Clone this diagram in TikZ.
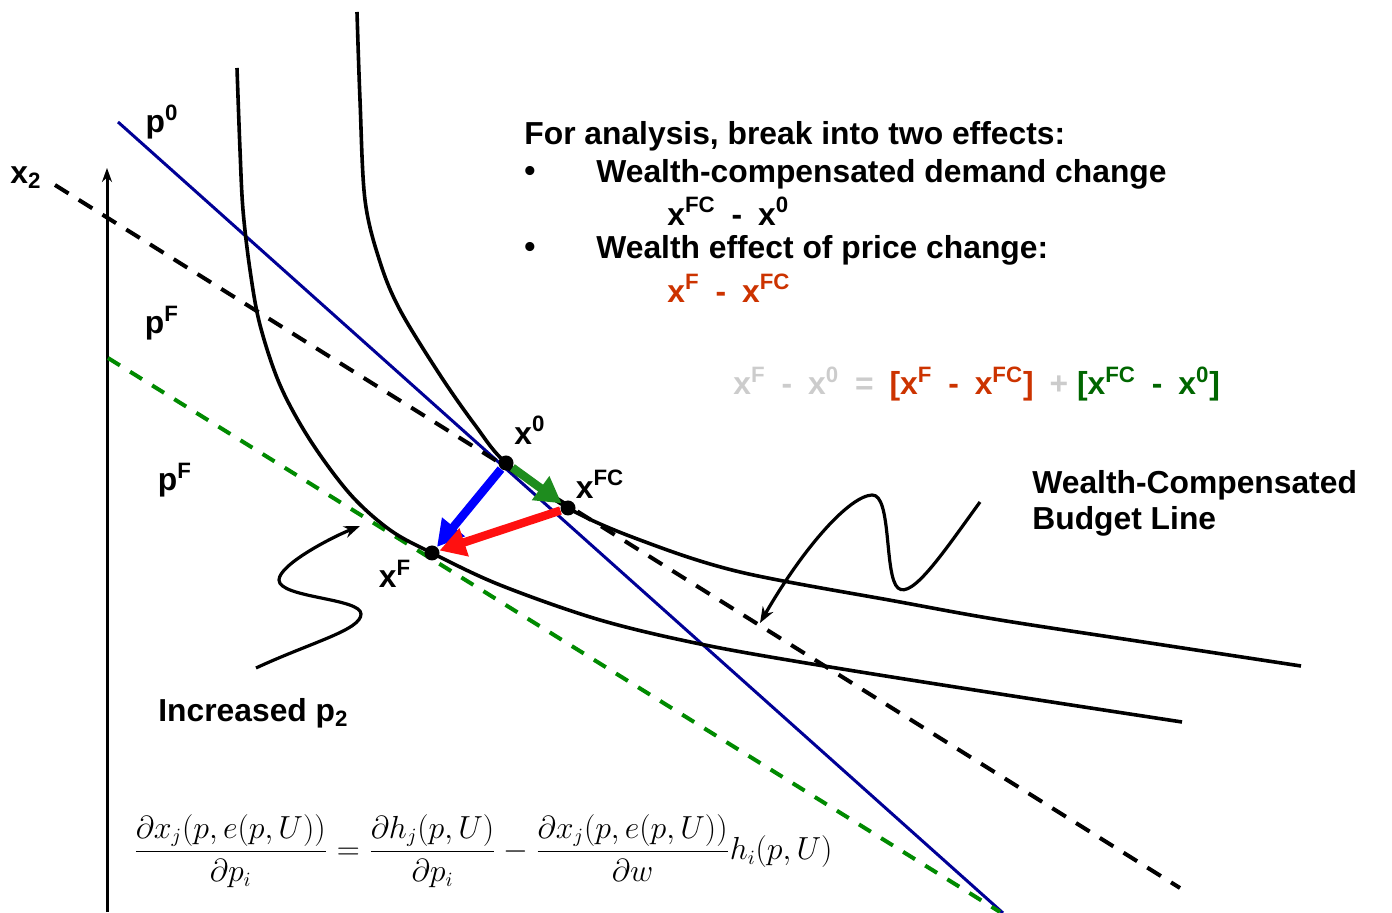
\documentclass[tikz,border=0pt]{standalone}
\usepackage[no-math]{fontspec}
\setmainfont{Liberation Sans}
\usepackage{amsmath}
\usetikzlibrary{arrows.meta,positioning}
\definecolor{cBudget}{HTML}{000096}
\definecolor{cComp}{HTML}{008A00}
\definecolor{cSub}{HTML}{1E8C1E}
\definecolor{cInc}{HTML}{0000FF}
\definecolor{cWea}{HTML}{FF1010}
\definecolor{cRedT}{HTML}{CC3300}
\definecolor{cGreenT}{HTML}{006600}
\definecolor{cGrayT}{HTML}{CCCCCC}
\newcommand{\sepsp}{\hspace{0.5em}}
\tikzset{
  lbl/.style   ={font=\fontsize{15.9}{19}\selectfont\bfseries, inner sep=0pt},
  txt/.style   ={lbl, anchor=west},
  axis/.style  ={line width=1.5pt, -{Stealth[length=7pt,width=5pt]}},
  icurve/.style={line width=1.8pt},
  budget/.style={draw=cBudget, line width=1.5pt},
  cline/.style ={line width=2pt, dash pattern=on 8pt off 6pt},
  fline/.style ={draw=cComp, line width=2pt, dash pattern=on 7pt off 6pt},
  dot/.style   ={circle, fill=black, inner sep=0pt, minimum size=7.5pt},
  eff/.style   ={line width=4.2pt, -{Triangle[length=13pt,width=14pt]}},
  note/.style  ={line width=1.6pt, -{Stealth[length=8pt,width=6pt]}},
}
\begin{document}
\begin{tikzpicture}[x=0.5pt,y=-0.5pt]
  \useasboundingbox (0,0) rectangle (1392,913);
  % axis
  \coordinate (origin) at (107,912);
  \coordinate (x2top) at (107,168);
  \draw[axis] (origin) -- (x2top);
  \node[lbl] (x2lbl) at (26,178) {x\textsubscript{2}};
  % budget lines
  \coordinate (p0a) at (118,122);  \coordinate (p0b) at (1003,913);
  \coordinate (pca) at (55,185);   \coordinate (pcb) at (1180,888);
  \coordinate (pfa) at (108,358);  \coordinate (pfb) at (1000,912);
  \draw[budget] (p0a) -- (p0b);
  \draw[cline] (pca) -- (pcb);
  \draw[fline] (pfa) -- (pfb);
  % indifference curves
  \draw[icurve] plot[smooth, tension=0.55] coordinates {(357,12) (360,100) (365,200)
    (380,262) (400,310) (440,375) (475,425) (506,463) (568,508) (640,540) (740,572)
    (900,602) (1000,620) (1150,643) (1301,666)};
  \draw[icurve] plot[smooth, tension=0.55] coordinates {(237,68) (240,150) (243,210)
    (250,270) (260,325) (280,385) (310,440) (350,494) (390,530) (432,553) (500,585)
    (600,620) (705,645) (830,667) (1000,694) (1182,722)};
  % bundles
  \node[dot] (x0) at (506,463) {};
  \node[dot] (xFC) at (568,508) {};
  \node[dot] (xF) at (432,553) {};
  \draw[eff, draw=cInc] (x0) -- (xF);
  \draw[eff, draw=cSub] (x0) -- (xFC);
  \draw[eff, draw=cWea] (xFC) -- (xF);
  \node[lbl] (x0lbl) at (530,430) {x\textsuperscript{0}};
  \node[lbl] (xFClbl) at (600,484) {x\textsuperscript{FC}};
  \node[lbl] (xFlbl) at (395,574) {x\textsuperscript{F}};
  % price labels
  \node[lbl] (p0lbl) at (162,122) {p\textsuperscript{0}};
  \node[lbl] (pFlbl) at (162,323) {p\textsuperscript{F}};
  \node[lbl] (pFlbl2) at (175,480) {p\textsuperscript{F}};
  % notes
  \node[txt] (incp) at (158,713) {Increased p\textsubscript{2}};
  \coordinate (incA) at (256,668);
  \coordinate (incB) at (360,526);
  \draw[note] (incA) .. controls (312,642) and (361,630) .. (361,614)
    .. controls (361,598) and (279,598) .. (279,580)
    .. controls (279,565) and (330,538) .. (incB);
  \node[txt, align=left] (wcbl) at (1032,503) {Wealth-Compensated\\[-1pt]Budget Line};
  \coordinate (wcA) at (980,502);
  \coordinate (wcB) at (760,623);
  \draw[note] (wcA) .. controls (945,550) and (912,600) .. (898,588)
    .. controls (884,576) and (892,494) .. (872,495)
    .. controls (850,496) and (805,545) .. (wcB);
  % text block
  \node[txt] (head) at (524,136) {For analysis, break into two effects:};
  \node[txt] (bul1) at (524,174) {\textbullet};
  \node[txt] (eff1) at (596,174) {Wealth-compensated demand change};
  \node[txt] (dif1) at (667,211) {x\textsuperscript{FC}\sepsp-\sepsp x\textsuperscript{0}};
  \node[txt] (bul2) at (524,250) {\textbullet};
  \node[txt] (eff2) at (596,250) {Wealth effect of price change:};
  \node[txt, text=cRedT] (dif2) at (667,288) {x\textsuperscript{F}\sepsp-\sepsp x\textsuperscript{FC}};
  \node[txt] (decomp) at (733,384) {{\color{cGrayT}x\textsuperscript{F}\sepsp-\sepsp x\textsuperscript{0}\sepsp=\sepsp}{\color{cRedT}[x\textsuperscript{F}\sepsp-\sepsp x\textsuperscript{FC}]}\sepsp{\color{cGrayT}+}\ {\color{cGreenT}[x\textsuperscript{FC}\sepsp-\sepsp x\textsuperscript{0}]}};
  % Slutsky equation
  \node[inner sep=0pt, font=\fontsize{16.2}{19}\selectfont] (slutsky) at (483,851)
    {\scalebox{0.923}{$\displaystyle\frac{\partial x_j(p,e(p,U))}{\partial p_i}=\frac{\partial h_j(p,U)}{\partial p_i}-\frac{\partial x_j(p,e(p,U))}{\partial w}h_i(p,U)$}};
\end{tikzpicture}
\end{document}
